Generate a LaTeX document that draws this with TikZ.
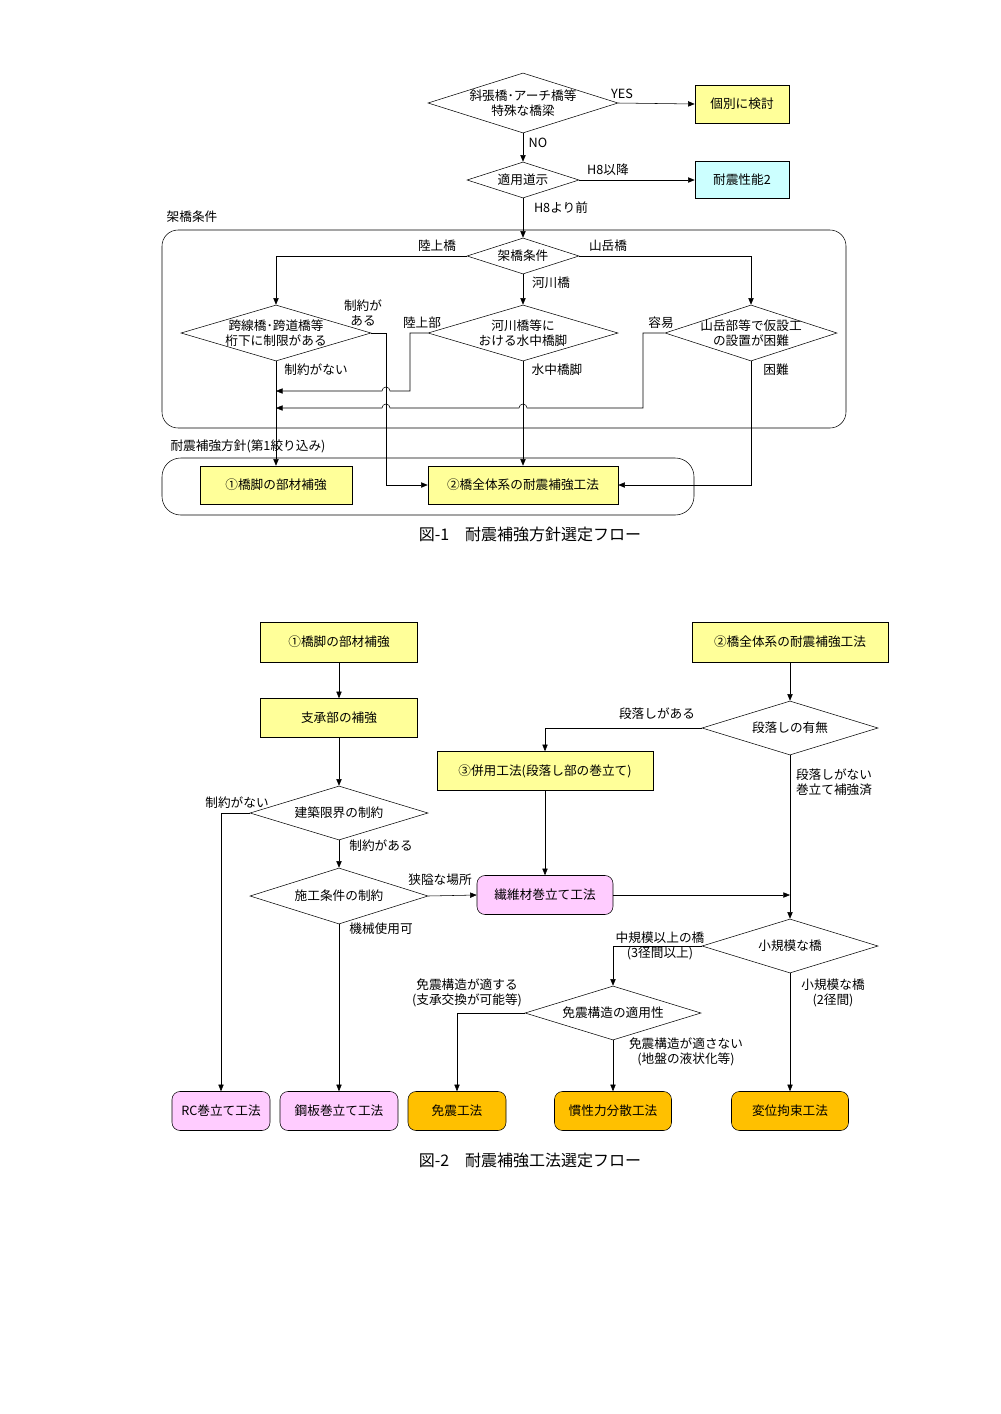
\documentclass[tikz,border=0pt]{standalone}
\usepackage{fontspec}
\setmainfont{Noto Sans CJK JP}
\usetikzlibrary{shapes.geometric,arrows.meta}
\definecolor{yel}{HTML}{FFFF99}
\definecolor{cya}{HTML}{CCFFFF}
\definecolor{pnk}{HTML}{FFCCFF}
\definecolor{org}{HTML}{FFC000}
\begin{document}
\begin{tikzpicture}[x=0.75pt,y=-0.75pt,
  font=\fontsize{9.5}{11}\selectfont,
  dia/.style 2 args={diamond,draw,inner sep=0,minimum width=#1*0.75pt,minimum height=#2*0.75pt},
  bx/.style 2 args={draw,fill=yel,inner sep=0,minimum width=#1*0.75pt,minimum height=#2*0.75pt},
  rbx/.style 2 args={draw,rounded corners=6pt,inner sep=0,minimum width=#1*0.75pt,minimum height=#2*0.75pt},
  arr/.style={draw,-{Triangle[length=5pt,width=4pt]}},
  lb/.style={inner sep=1pt,align=center},
  captxt/.style={font=\fontsize{12}{14}\selectfont}]
\useasboundingbox (0,0) rectangle (1000,1414);
% ---------- Figure 1 ----------
\draw[rounded corners=12pt] (162,230) rectangle (846,428);
\draw[rounded corners=14pt] (162,458) rectangle (694,515);
\node[lb] (t1) at (192,217) {架橋条件};
\node[lb] (t2) at (248,446) {耐震補強方針(第1絞り込み)};
\node[dia={190}{60}] (d1) at (523,103) {};
\node[lb] at (d1) {斜張橋･アーチ橋等\\特殊な橋梁};
\node[bx={94}{38}] (b1) at (742,104) {個別に検討};
\node[dia={112}{36}] (d2) at (523,180) {};
\node[lb] at (d2) {適用道示};
\node[bx={94}{37},fill=cya] (b2) at (742,180) {耐震性能2};
\node[dia={112}{36}] (d3) at (523,256) {};
\node[lb] at (d3) {架橋条件};
\node[dia={190}{56}] (d4) at (276,333) {};
\node[lb] at (d4) {跨線橋･跨道橋等\\桁下に制限がある};
\node[dia={190}{56}] (d5) at (523,333) {};
\node[lb] at (d5) {河川橋等に\\おける水中橋脚};
\node[dia={172}{56}] (d6) at (751,333) {};
\node[lb] at (d6) {山岳部等で仮設工\\の設置が困難};
\node[bx={152}{38}] (b3) at (276,485) {①橋脚の部材補強};
\node[bx={190}{38}] (b4) at (523,485) {②橋全体系の耐震補強工法};

\draw[arr] (d1.east) -- (b1.west);
\node[lb] at (622,94) {YES};
\draw[arr] (d1.south) -- (d2.north);
\node[lb] at (538,143) {NO};
\draw[arr] (d2.east) -- (b2.west);
\node[lb] at (608,170) {H8以降};
\draw[arr] (d2.south) -- (d3.north);
\node[lb] at (561,208) {H8より前};
\draw[arr] (d3.west) -| (d4.north);
\node[lb] at (437,246) {陸上橋};
\draw[arr] (d3.east) -| (d6.north);
\node[lb] at (608,246) {山岳橋};
\draw[arr] (d3.south) -- (d5.north);
\node[lb] at (551,283) {河川橋};
% D4
\draw[arr] (d4.east) -- (386,333) -- (386,485) -- (b4.west);
\node[lb] at (363,313) {制約が\\ある};
\draw[arr] (d4.south) -- (b3.north);
\node[lb] at (316,370) {制約がない};
% D5
\draw[arr] (d5.west) -- (410,333) -- (410,391) -- (390,391) arc(0:-180:4) -- (276,391);
\node[lb] at (422,323) {陸上部};
\draw[arr] (d5.south) -- (b4.north);
\node[lb] at (557,370) {水中橋脚};
% D6
\draw[arr] (d6.west) -- (643,333) -- (643,408) -- (527,408) arc(0:-180:4) -- (390,408) arc(0:-180:4) -- (276,408);
\node[lb] at (661,323) {容易};
\draw[arr] (d6.south) -- (751,485) -- (b4.east);
\node[lb] at (776,370) {困難};
\node[captxt] (c1) at (530,534) {図-1\quad 耐震補強方針選定フロー};

% ---------- Figure 2 ----------
\node[bx={157}{40}] (c1b) at (339,642) {①橋脚の部材補強};
\node[bx={196}{40}] (c2b) at (790,642) {②橋全体系の耐震補強工法};
\node[bx={157}{39}] (c3b) at (339,718) {支承部の補強};
\node[dia={178}{54}] (e1) at (339,813) {};
\node[lb] at (e1) {建築限界の制約};
\node[dia={178}{56}] (e2) at (339,896) {};
\node[lb] at (e2) {施工条件の制約};
\node[rbx={136}{39},fill=pnk] (g) at (545,895) {繊維材巻立て工法};
\node[dia={176}{54}] (e3) at (790,728) {};
\node[lb] at (e3) {段落しの有無};
\node[bx={216}{39}] (c4b) at (545,771) {③併用工法(段落し部の巻立て)};
\node[dia={176}{54}] (e4) at (790,946) {};
\node[lb] at (e4) {小規模な橋};
\node[dia={176}{54}] (e5) at (613,1013) {};
\node[lb] at (e5) {免震構造の適用性};
\node[rbx={98}{39},fill=pnk] (f1) at (221,1111) {RC巻立て工法};
\node[rbx={118}{39},fill=pnk] (f2) at (339,1111) {鋼板巻立て工法};
\node[rbx={98}{39},fill=org] (f3) at (457,1111) {免震工法};
\node[rbx={117}{39},fill=org] (f4) at (613,1111) {慣性力分散工法};
\node[rbx={117}{39},fill=org] (f5) at (790,1111) {変位拘束工法};

\draw[arr] (c1b.south) -- (c3b.north);
\draw[arr] (c3b.south) -- (e1.north);
\draw[arr] (e1.west) -| (f1.north);
\node[lb] at (237,803) {制約がない};
\draw[arr] (e1.south) -- (e2.north);
\node[lb] at (381,846) {制約がある};
\draw[arr] (e2.east) -- (g.west);
\node[lb] at (440,880) {狭隘な場所};
\draw[arr] (e2.south) -- (f2.north);
\node[lb] at (381,929) {機械使用可};
\draw[arr] (c2b.south) -- (e3.north);
\draw[arr] (e3.west) -| (c4b.north);
\node[lb] at (657,714) {段落しがある};
\draw[arr] (c4b.south) -- (g.north);
\draw[arr] (e3.south) -- (e4.north);
\node[lb] at (834,782) {段落しがない\\巻立て補強済};
\coordinate (j) at (790,895);
\draw[arr] (g.east) -- (j);
\draw[arr] (e4.west) -| (e5.north);
\node[lb] at (660,946) {中規模以上の橋\\(3径間以上)};
\draw[arr] (e4.south) -- (f5.north);
\node[lb] at (833,993) {小規模な橋\\(2径間)};
\draw[arr] (e5.west) -| (f3.north);
\node[lb] at (467,993) {免震構造が適する\\(支承交換が可能等)};
\draw[arr] (e5.south) -- (f4.north);
\node[lb] at (686,1052) {免震構造が適さない\\(地盤の液状化等)};
\node[captxt] (c2) at (530,1160) {図-2\quad 耐震補強工法選定フロー};
\end{tikzpicture}
\end{document}
